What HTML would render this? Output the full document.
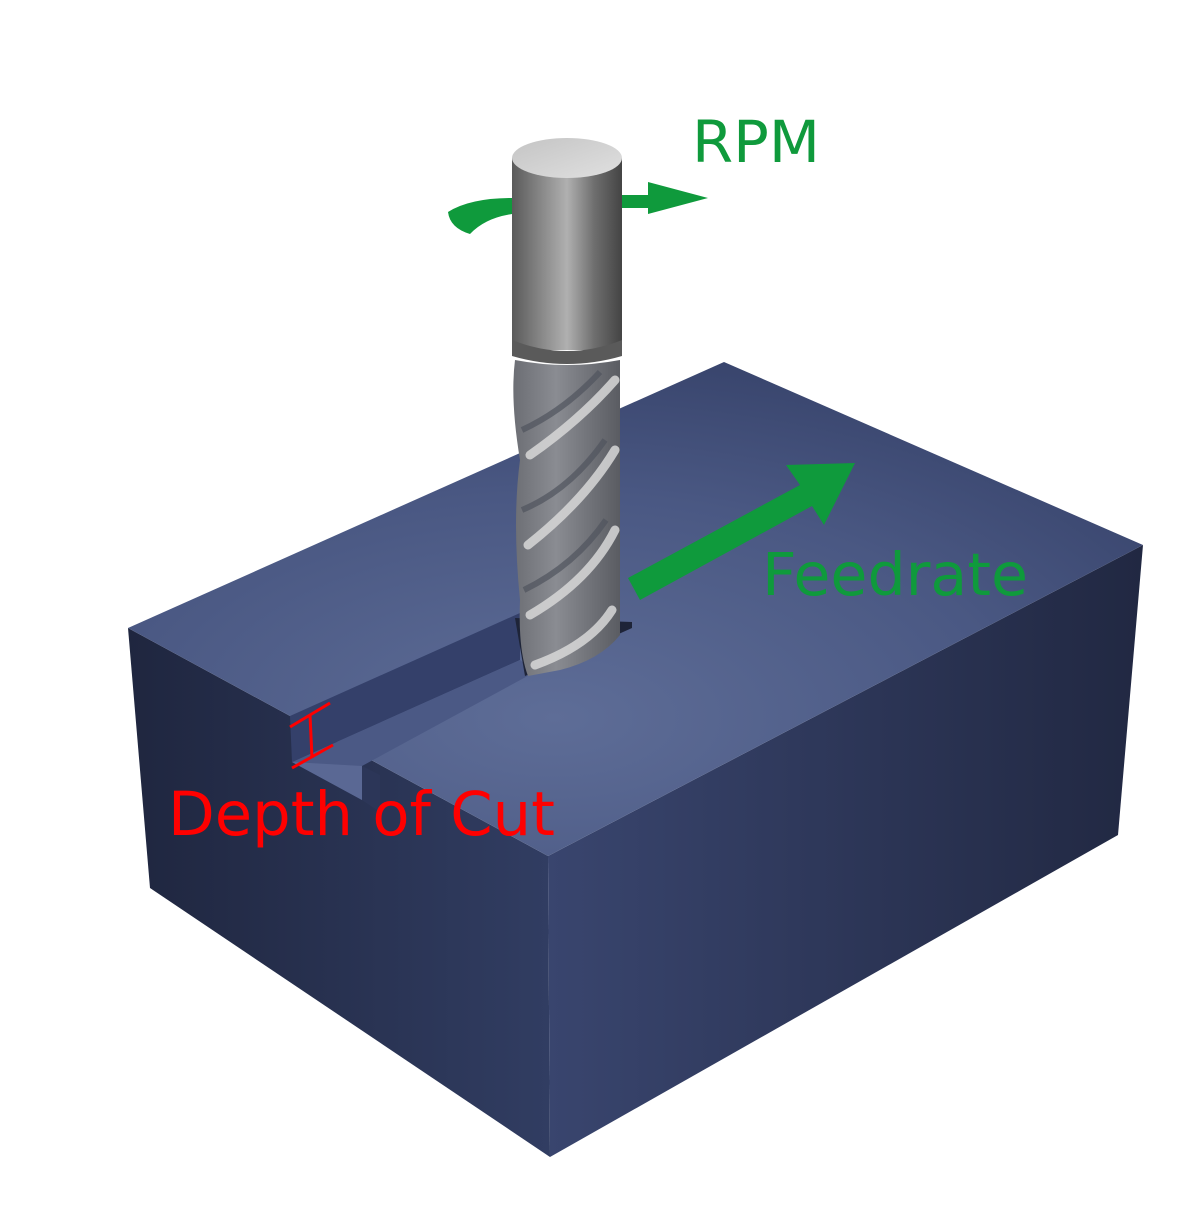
<!DOCTYPE html>
<html><head><meta charset="utf-8"><style>
html,body{margin:0;padding:0;background:#fff;}
svg{display:block;}
text{font-family:"DejaVu Sans","Liberation Sans",sans-serif;}
</style></head><body>
<svg width="1200" height="1217" viewBox="0 0 1200 1217" xmlns="http://www.w3.org/2000/svg">
<defs>
<radialGradient id="top" cx="0.42" cy="0.72" r="0.75">
<stop offset="0" stop-color="#5e6d97"/><stop offset="0.6" stop-color="#4a5883"/><stop offset="1" stop-color="#38446c"/>
</radialGradient>
<linearGradient id="left" x1="0" y1="0" x2="1" y2="0">
<stop offset="0" stop-color="#1f263f"/><stop offset="1" stop-color="#313d62"/>
</linearGradient>
<linearGradient id="right" x1="0" y1="0" x2="1" y2="0">
<stop offset="0" stop-color="#39456e"/><stop offset="1" stop-color="#212842"/>
</linearGradient>
<linearGradient id="shank" x1="0" y1="0" x2="1" y2="0">
<stop offset="0" stop-color="#5a5a5a"/><stop offset="0.5" stop-color="#b0b0b0"/><stop offset="0.75" stop-color="#6e6e6e"/><stop offset="1" stop-color="#444"/>
</linearGradient>
<linearGradient id="flute" x1="0" y1="0" x2="1" y2="0">
<stop offset="0" stop-color="#6c6e74"/><stop offset="0.4" stop-color="#8a8c92"/><stop offset="1" stop-color="#5a5c62"/>
</linearGradient>
<linearGradient id="cap" x1="0" y1="0" x2="1" y2="1">
<stop offset="0" stop-color="#c4c4c4"/><stop offset="1" stop-color="#e0e0e0"/>
</linearGradient>
</defs>
<polygon points="128,628 548,856 550,1157 150,888" fill="url(#left)"/>
<polygon points="548,856 1143,545 1118,835 550,1157" fill="url(#right)"/>
<polygon points="128,628 724,362 1143,545 548,856" fill="url(#top)"/>
<polygon points="290,716 520,613 520,660 292,762" fill="#34406a"/>
<polygon points="292,762 520,660 535,672 362,766 362,800" fill="#4b5985"/>
<polygon points="292,762 362,800 362,766" fill="#5a6894"/>
<polygon points="362,766 362,800 380,812 380,775" fill="#2c3658"/>
<polygon points="515,618 632,622 632,628 525,676" fill="#1e2438"/>
<rect x="512" y="158" width="110" height="192" fill="url(#shank)"/>
<ellipse cx="567" cy="158" rx="55" ry="20" fill="url(#cap)"/>
<path d="M512,340 Q567,362 622,340 L622,356 Q567,372 512,356 Z" fill="#5a5a5a"/>
<path d="M515,360 Q567,370 620,360 L620,635 Q600,660 560,670 L528,676 Q518,650 520,600 Q512,520 520,460 Q510,400 515,360 Z" fill="url(#flute)"/>
<g fill="none" stroke="#d8d8d8" stroke-width="9" stroke-linecap="round" opacity="0.85">
<path d="M615,380 Q580,420 530,455"/>
<path d="M615,450 Q585,500 528,545"/>
<path d="M615,530 Q590,580 530,615"/>
<path d="M612,610 Q590,645 535,665"/>
</g>
<g fill="none" stroke="#50545e" stroke-width="6" opacity="0.7">
<path d="M600,372 Q565,410 522,430"/>
<path d="M605,440 Q570,490 522,510"/>
<path d="M606,520 Q575,565 524,590"/>
</g>
<path d="M512,198 Q470,198 448,212 Q450,228 470,234 Q485,218 512,214 Z" fill="#0f9a3c"/>
<path d="M622,195 L648,195 L648,182 L708,198 L648,214 L648,208 L622,208 Z" fill="#0f9a3c"/>
<polygon points="628,578 800,485 786,465 855,463 824,525 812,506 640,600" fill="#0f9a3c"/>
<g stroke="#ff0000" stroke-width="3" fill="none">
<line x1="290" y1="727" x2="330" y2="703"/>
<line x1="310" y1="715" x2="312" y2="758"/>
<line x1="292" y1="768" x2="333" y2="745"/>
</g>
<text x="692" y="162" font-size="58" fill="#0f9a3c" textLength="128" lengthAdjust="spacingAndGlyphs">RPM</text>
<text x="762" y="595" font-size="59" fill="#0f9a3c" textLength="266" lengthAdjust="spacingAndGlyphs">Feedrate</text>
<text x="168" y="835" font-size="61" fill="#ff0000" textLength="387" lengthAdjust="spacingAndGlyphs">Depth of Cut</text>
</svg>
</body></html>
